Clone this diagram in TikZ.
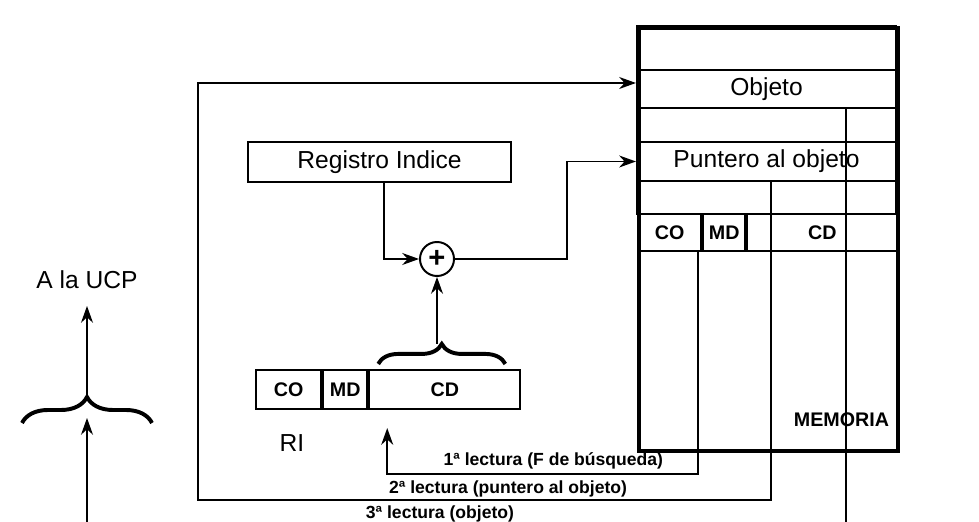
\documentclass[tikz,border=0pt]{standalone}
\usepackage{fontspec}
\setmainfont{Liberation Sans}
\usetikzlibrary{positioning, arrows.meta, calc, decorations.pathreplacing}

\begin{document}
\begin{tikzpicture}[
    arrow/.style={-{Stealth[length=4.2mm, width=3mm]}, line width=1.1pt, draw=black},
    wire/.style={line width=1.1pt, draw=black},
    bigtext/.style={font=\fontsize{17.5}{20}\selectfont},
    cell/.style={draw=black, line width=1.5pt, minimum height=0.975cm, inner sep=0pt, font=\bfseries\fontsize{14}{16}\selectfont},
    memrow/.style={draw=black, line width=1.5pt, minimum width=6.475cm, inner sep=0pt},
    readlabel/.style={font=\bfseries\fontsize{12.5}{14}\selectfont},
    bigbrace/.style={decorate, decoration={brace, amplitude=#1}, line width=2.8pt}
]

% Picture frame
\useasboundingbox (0,0) rectangle (24.475,13.05);

% Memory rows
\def\memx{19.1625}
\node[memrow, minimum height=1.1cm] (toprow) at (\memx,11.85) {};
\node[memrow, minimum height=0.95cm, bigtext] (objeto) at (\memx,10.825) {Objeto};
\node[memrow, minimum height=0.85cm] (gapA) at (\memx,9.925) {};
\node[memrow, minimum height=0.975cm, bigtext] (puntero) at (\memx,9.0125) {Puntero al objeto};
\node[memrow, minimum height=0.825cm] (gapB) at (\memx,8.1125) {};
\node[cell, minimum width=1.575cm, minimum height=0.925cm, anchor=west] (mco) at (15.925,7.2375) {CO};
\node[cell, minimum width=1.05cm, minimum height=0.925cm, right=0pt of mco] (mmd) {MD};
\node[cell, minimum width=3.75cm, minimum height=0.925cm, right=0pt of mmd] (mcd) {CD};
\node[draw, line width=2.6pt, minimum width=6.475cm, minimum height=10.575cm, inner sep=0pt, anchor=north west] (mem) at (15.925,12.4) {};
\node[anchor=east, font=\bfseries\fontsize{14}{16}\selectfont] (memlabel) at (22.35,2.55) {MEMORIA};

% Index register and adder
\node[draw, line width=1.8pt, minimum width=6.575cm, minimum height=1cm, bigtext] (regidx) at (9.4875,9.0) {Registro Indice};
\node[circle, draw, line width=1.4pt, minimum size=0.85cm, inner sep=0pt, font=\bfseries\huge] (sum) at (10.925,6.575) {+};
\draw[arrow] ([xshift=0.1125cm]regidx.south) |- (sum.west);
\draw[arrow] (sum.east) -- ++(2.8,0) |- (puntero.west);

% Instruction register RI
\node[cell, minimum width=1.625cm, anchor=west] (co) at (6.375,3.3125) {CO};
\node[cell, minimum width=1.1cm, right=0pt of co] (md) {MD};
\node[cell, minimum width=3.775cm, right=0pt of md] (cd) {CD};
\node[bigtext] (rilabel) at (7.3,1.975) {RI};
\draw[bigbrace=0.5cm] ([xshift=0.25cm, yshift=0.125cm]cd.north west) -- ([xshift=-0.4cm, yshift=0.125cm]cd.north east);
\coordinate (cdtip) at (10.925,4.45);
\draw[arrow] (cdtip) -- (sum.south);

% To the CPU
\node[bigtext] (ucp) at (2.175,6.05) {A la UCP};
\draw[bigbrace=0.65cm] (0.55,2.475) -- (3.8,2.475);
\coordinate (ucptip) at (2.175,3.15);
\coordinate (ucpin) at (2.175,2.6);
\coordinate (ucpbase) at (2.175,0);
\draw[arrow] (ucptip) -- ([yshift=-0.3cm]ucp.south);
\draw[arrow] (ucpbase) -- (ucpin);

% Memory reads
\coordinate (ritail) at ($(cd.south west)+(0.475,-0.45)$);
\coordinate (loop2) at (4.95,0.55);
\coordinate (out3) at (21.15,0);
\draw[arrow] ([xshift=-0.1cm]mco.south east) -- ++(0,-5.55) -| (ritail);
\draw[arrow] ([xshift=0.1125cm]puntero.south) |- (loop2) |- ([yshift=0.15cm]objeto.west);
\draw[wire] ([xshift=1.9875cm]objeto.south) -- (out3);

\node[readlabel, anchor=east] (read1) at (16.7,1.525) {1ª lectura (F de búsqueda)};
\node[readlabel, anchor=east] (read2) at (15.8,0.825) {2ª lectura (puntero al objeto)};
\node[readlabel] (read3) at (11.0,0.2) {3ª lectura (objeto)};

\end{tikzpicture}
\end{document}
